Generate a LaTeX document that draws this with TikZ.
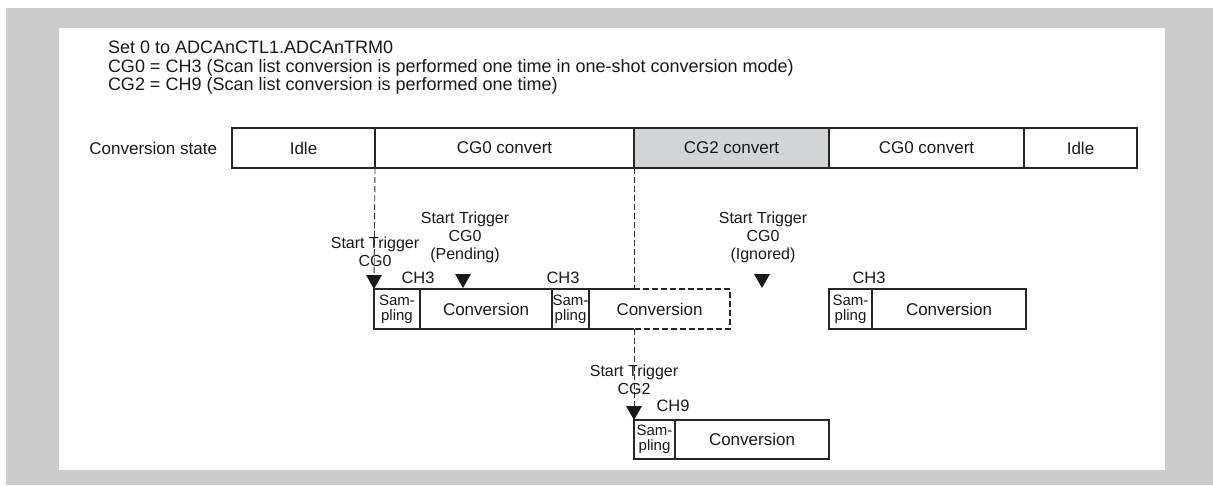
\documentclass[tikz,border=0pt]{standalone}
\usepackage{fontspec}
\setmainfont{Liberation Sans}
\usetikzlibrary{positioning}
\definecolor{framegray}{RGB}{204,204,204}
\definecolor{cellgray}{RGB}{211,212,214}
\newcommand{\trigmark}[1]{\fill[black!90] (#1) -- ++(-8,-14) -- ++(16,0) -- cycle;}
\begin{document}
\begin{tikzpicture}[x=1pt, y=-1pt,
    every node/.style={text=black!90, inner sep=0pt, outer sep=0pt},
    cell/.style={draw=black!85, line width=1.1pt, minimum height=40pt, anchor=north west,
        font=\fontsize{17}{19}\selectfont},
    samp/.style={cell, align=center, font=\fontsize{15}{15}\selectfont},
    conv/.style={cell, font=\fontsize{17}{19}\selectfont},
    trigtxt/.style={align=center, anchor=south, font=\fontsize{16}{18}\selectfont},
    chtxt/.style={anchor=base, font=\fontsize{16.5}{18}\selectfont},
    guide/.style={line width=0.9pt, black!80, dash pattern=on 6pt off 3pt}]
    % Frame
    \useasboundingbox (0,0) rectangle (1213,485);
    \fill[framegray] (6,8) rectangle (1213,485);
    \fill[white] (59,28) rectangle (1165,470);
    % Settings
    \node[anchor=north west, align=left, font=\fontsize{18}{18.5}\selectfont] (note) at (108,41)
        {Set 0 to ADCAnCTL1.ADCAnTRM0\\
         CG0 = CH3 (Scan list conversion is performed one time in one-shot conversion mode)\\
         CG2 = CH9 (Scan list conversion is performed one time)};
    % Conversion state
    \node[cell, minimum width=143pt] (idleA) at (232,128) {Idle};
    \node[cell, minimum width=259pt, right=0pt of idleA] (cgA) {CG0 convert};
    \node[cell, fill=cellgray, minimum width=195pt, right=0pt of cgA] (cgB) {CG2 convert};
    \node[cell, minimum width=195pt, right=0pt of cgB] (cgC) {CG0 convert};
    \node[cell, minimum width=113pt, right=0pt of cgC] (idleB) {Idle};
    \node[font=\fontsize{17}{19}\selectfont, left=15pt of idleA] (statelbl) {Conversion state};
    % CG0 scan, first pass
    \node[samp, minimum width=46pt] (sampA) at (374,289) {Sam-\\pling};
    \node[conv, minimum width=132pt, right=0pt of sampA] (convA) {Conversion};
    \node[samp, minimum width=37pt, right=0pt of convA] (sampB) {Sam-\\pling};
    \node[conv, draw=none, minimum width=141pt, right=0pt of sampB] (convB) {Conversion};
    \coordinate (cutN) at (convB.north west -| cgB.south west);
    \coordinate (cutS) at (convB.south west -| cgB.south west);
    \draw[line width=1.1pt, black!85] (convB.north west) -- (cutN);
    \draw[line width=1.1pt, black!85] (convB.south west) -- (cutS);
    \draw[line width=1.1pt, black!85, dash pattern=on 6pt off 3pt]
        (cutN) -- (convB.north east) -- (convB.south east) -- (cutS);
    % CG2 scan
    \node[samp, minimum width=41pt, minimum height=39pt] (sampD) at (634,420) {Sam-\\pling};
    \node[conv, minimum width=154pt, minimum height=39pt, right=0pt of sampD] (convD) {Conversion};
    % CG0 scan, resumed
    \node[samp, minimum width=43pt] (sampC) at (829,289) {Sam-\\pling};
    \node[conv, minimum width=154pt, right=0pt of sampC] (convC) {Conversion};
    % Guides
    \draw[guide] (cgA.south west) -- (sampA.north west);
    \draw[guide] (cgB.south west) -- (cutN);
    \draw[guide] (cutS) -- (sampD.north west);
    % Start triggers
    \coordinate (pendTip) at (463,288);
    \coordinate (ignTip) at (762,288);
    \trigmark{sampA.north west}
    \trigmark{pendTip}
    \trigmark{ignTip}
    \trigmark{sampD.north west}
    \node[trigtxt] (trgA) at (375,267) {Start Trigger\\CG0};
    \node[trigtxt] (trgB) at (465,263) {Start Trigger\\CG0\\(Pending)};
    \node[trigtxt] (trgC) at (763,263) {Start Trigger\\CG0\\(Ignored)};
    \node[trigtxt] (trgD) at (634,395) {Start Trigger\\CG2};
    % Channels
    \node[chtxt] (chA) at (418,283) {CH3};
    \node[chtxt] (chB) at (563,283) {CH3};
    \node[chtxt] (chC) at (869,283) {CH3};
    \node[chtxt] (chD) at (673,411) {CH9};
\end{tikzpicture}
\end{document}
